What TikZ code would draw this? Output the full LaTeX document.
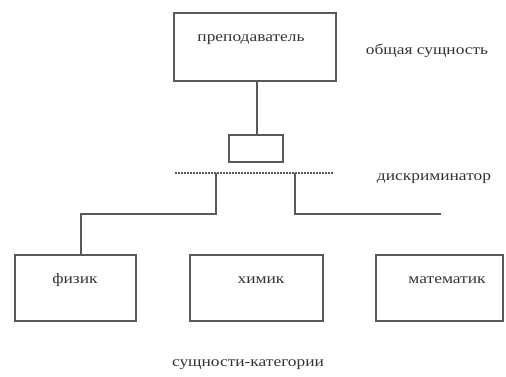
\documentclass[tikz,border=0pt]{standalone}
\usepackage{fontspec}
\setmainfont[FakeStretch=1.2]{Liberation Serif}
\begin{document}
\begin{tikzpicture}[x=1pt,y=-1pt,
  entity/.style={draw=black!65, line width=1.6pt, rectangle, anchor=north west, inner sep=0pt},
  link/.style={draw=black!65, line width=1.6pt},
  lbl/.style={text=black!80, font=\fontsize{14.5}{16}\selectfont, inner sep=0pt}]
  \useasboundingbox (0,0) rectangle (506,376);
  % supertype
  \node[entity, minimum width=162pt, minimum height=68pt] (teacher) at (173,12) {};
  \node[lbl] (tlabel) at (251,40) {преподаватель};
  \node[lbl] (general) at (427,51) {общая сущность};
  % discriminator
  \node[entity, minimum width=54pt, minimum height=27pt] (disc) at (228,134) {};
  \coordinate (dl) at (175,173);
  \coordinate (dr) at (333,173);
  \draw[link, line width=1.1pt, dash pattern=on 2pt off 1pt] (dl) -- (dr);
  \node[lbl] (disclabel) at (434,179) {дискриминатор};
  \coordinate (ttop) at (257,80);
  \draw[link] (ttop) -- (ttop |- disc.north);
  % subtypes
  \node[entity, minimum width=121pt, minimum height=66pt] (phys) at (14,254) {};
  \node[entity, minimum width=133pt, minimum height=66pt] (chem) at (189,254) {};
  \node[entity, minimum width=127pt, minimum height=66pt] (math) at (375,254) {};
  \node[lbl] (physl) at (75,280) {физик};
  \node[lbl] (chems) at (261,280) {химик};
  \node[lbl] (mathl) at (447,280) {математик};
  % branches from the discriminator line
  \coordinate (b1) at (216,173);
  \coordinate (b2) at (295,173);
  \coordinate (e2) at (441,214);
  \draw[link] (b1) -- (216,214) -| (phys.north -| 81,0);
  \draw[link] (b2) -- (295,214) -- (e2);
  \node[lbl] (cats) at (248,365) {сущности-категории};
\end{tikzpicture}
\end{document}
